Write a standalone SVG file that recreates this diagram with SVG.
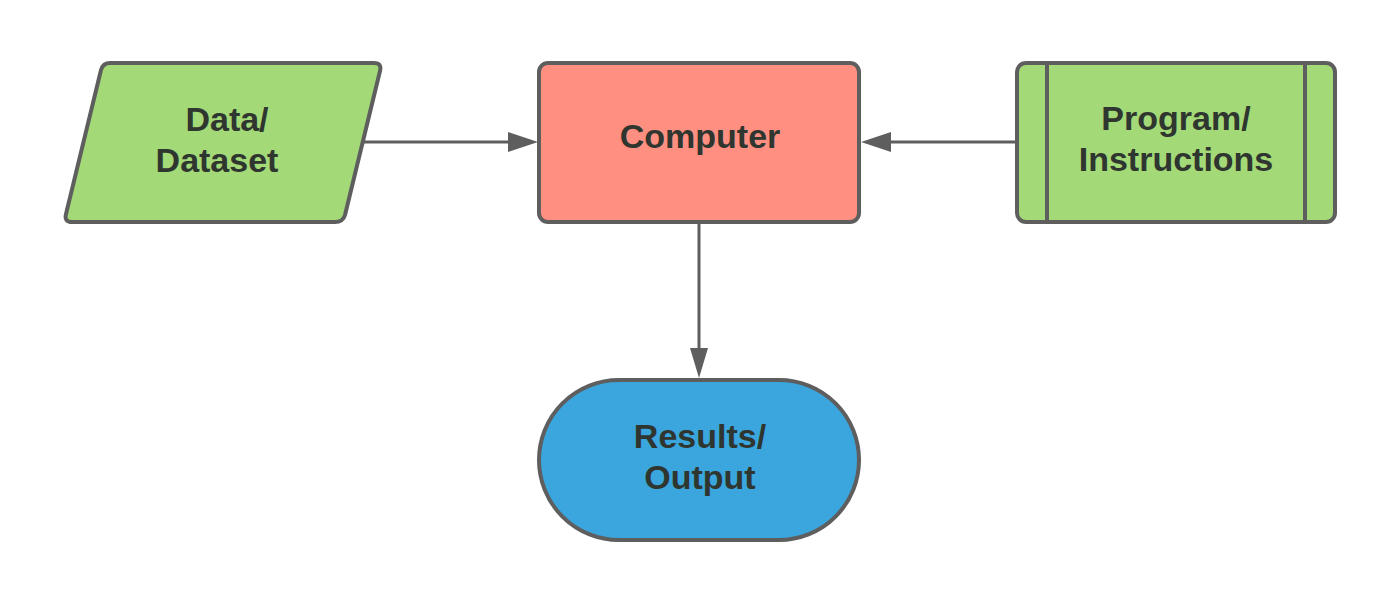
<svg xmlns="http://www.w3.org/2000/svg" width="1400" height="604" viewBox="0 0 1400 604">
  <style>
    .node { stroke: #5E5E5E; stroke-width: 4; stroke-linejoin: round; }
    .green { fill: #A3D977; }
    .red { fill: #FF8F80; }
    .blue { fill: #3AA6DD; }
    .lbl { font-family: "Liberation Sans", Arial, sans-serif; font-weight: bold; font-size: 34px; fill: #2F352F; text-anchor: middle; }
    .conn { stroke: #5E5E5E; stroke-width: 3; fill: none; }
    .head { fill: #5E5E5E; }
  </style>
  <rect width="1400" height="604" fill="#FFFFFF"/>

  <g id="connectors">
    <line class="conn" x1="362" y1="142" x2="510" y2="142"/>
    <path class="head" d="M508,132 L538,142 L508,152 Z"/>
    <line class="conn" x1="1017" y1="142" x2="890" y2="142"/>
    <path class="head" d="M891,132 L861,142 L891,152 Z"/>
    <line class="conn" x1="699" y1="222" x2="699" y2="350"/>
    <path class="head" d="M690,348 L699,378 L708,348 Z"/>
  </g>

  <g id="data">
    <path class="node green" d="M110,63 L374,63 Q382,63 380,71 L345,215 Q343,222 335,222 L72,222 Q64,222 66,214 L101,70 Q103,63 110,63 Z"/>
    <text class="lbl" x="227" y="131">Data/</text>
    <text class="lbl" x="217" y="172">Dataset</text>
  </g>

  <g id="computer">
    <rect class="node red" x="539" y="63" width="320" height="159" rx="9"/>
    <text class="lbl" x="700" y="148">Computer</text>
  </g>

  <g id="program">
    <rect class="node green" x="1017" y="63" width="318" height="159" rx="9"/>
    <line class="node" x1="1047" y1="63" x2="1047" y2="222"/>
    <line class="node" x1="1305" y1="63" x2="1305" y2="222"/>
    <text class="lbl" x="1176" y="130">Program/</text>
    <text class="lbl" x="1176" y="171">Instructions</text>
  </g>

  <g id="results">
    <rect class="node blue" x="539" y="380" width="320" height="160" rx="80"/>
    <text class="lbl" x="700" y="448">Results/</text>
    <text class="lbl" x="700" y="489">Output</text>
  </g>
</svg>
